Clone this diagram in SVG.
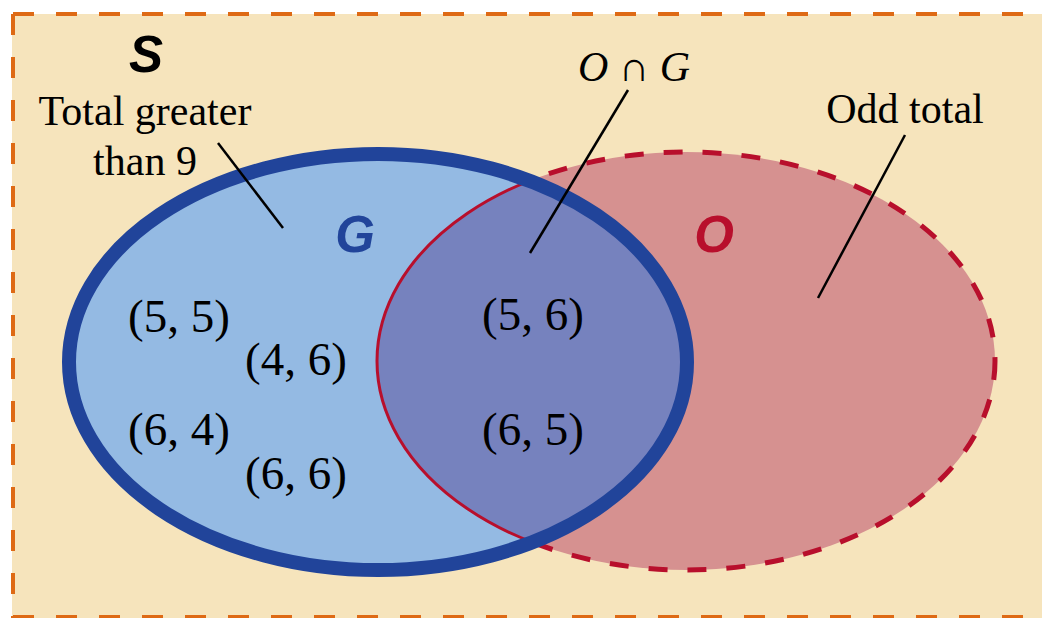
<svg xmlns="http://www.w3.org/2000/svg" width="1042" height="618" viewBox="0 0 1042 618">
<style>
.lbl{font-family:"Liberation Serif","Times New Roman",serif;font-size:42px;fill:#000;text-anchor:middle}
.num{font-family:"Liberation Serif","Times New Roman",serif;font-size:47px;fill:#000;text-anchor:middle}
.set{font-family:"Liberation Sans",Arial,sans-serif;font-size:51px;font-weight:bold;font-style:italic;text-anchor:middle}
.lead{stroke:#000;stroke-width:2.5;fill:none}
</style>
<defs>
<clipPath id="blueClip"><ellipse cx="378" cy="362" rx="309" ry="208"/></clipPath>
</defs>
<g id="background">
<rect x="12" y="14" width="1030" height="604" fill="#F6E4BC"/>
<path d="M13 14 H1042 M13 14 V618 M13 617 H1042" stroke="#DE6A15" stroke-width="4" stroke-dasharray="21 22" fill="none"/>
<text class="set" x="146" y="72" fill="#000">S</text>
</g>
<g id="node-O">
<ellipse cx="686" cy="361" rx="309" ry="209" fill="#D69190" stroke="#B80F2C" stroke-width="5" stroke-dasharray="19 20"/>
<text class="set" x="714" y="252" fill="#B80F2C">O</text>
</g>
<g id="node-G">
<ellipse cx="378" cy="362" rx="309" ry="208" fill="#94BAE3"/>
</g>
<g id="node-intersection">
<ellipse cx="686" cy="361" rx="309" ry="209" fill="#7682BE" stroke="#B80F2C" stroke-width="3" clip-path="url(#blueClip)"/>
</g>
<g id="node-G-outline">
<ellipse cx="378" cy="362" rx="309" ry="208" fill="none" stroke="#21449A" stroke-width="14"/>
<text class="set" x="355" y="252" fill="#21449A">G</text>
</g>
<g id="elements">
<text class="num" x="179" y="332">(5, 5)</text>
<text class="num" x="296" y="375">(4, 6)</text>
<text class="num" x="179" y="445">(6, 4)</text>
<text class="num" x="296" y="489">(6, 6)</text>
<text class="num" x="533" y="330">(5, 6)</text>
<text class="num" x="533" y="445">(6, 5)</text>
</g>
<g id="labels">
<text class="lbl" x="145" y="125">Total greater</text>
<text class="lbl" x="145" y="175">than 9</text>
<text class="lbl" x="634" y="81" font-size="43"><tspan font-style="italic">O</tspan> ∩ <tspan font-style="italic">G</tspan></text>
<text class="lbl" x="905" y="123">Odd total</text>
</g>
<g id="connectors">
<line class="lead" x1="218" y1="143" x2="283" y2="228"/>
<line class="lead" x1="628" y1="90" x2="530" y2="253"/>
<line class="lead" x1="905" y1="135" x2="818" y2="298"/>
</g>
</svg>
